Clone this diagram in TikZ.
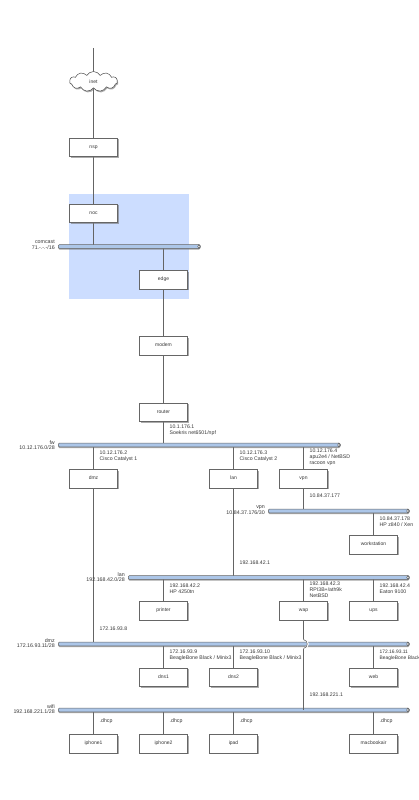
\documentclass[tikz,border=0pt]{standalone}
\usepackage{fontspec}
\setmainfont{Liberation Sans}
\usetikzlibrary{shapes.symbols,shadows,backgrounds}
\definecolor{busfill}{RGB}{172,198,232}
\definecolor{zone}{RGB}{204,221,255}
\definecolor{linecol}{RGB}{100,100,100}
\definecolor{txt}{RGB}{55,55,55}
\tikzset{
  x=1pt,y=-1pt,
  dev/.style={draw=black!60,fill=white,line width=.5pt,minimum width=48pt,minimum height=18.5pt,inner sep=0pt,text=txt,text height=3.6pt,text depth=.9pt,font=\fontsize{5}{6}\selectfont,drop shadow={shadow xshift=1.1pt,shadow yshift=-1.5pt,fill=black!55,opacity=.6}},
  cld/.style={cloud,cloud puffs=11,cloud puff arc=120,aspect=3,draw=black!70,fill=white,line width=.5pt,minimum width=48pt,minimum height=20pt,inner sep=0pt,text=txt,font=\fontsize{5}{6}\selectfont,drop shadow={shadow xshift=.9pt,shadow yshift=-1.3pt,fill=black!55,opacity=.6}},
  bus/.style={draw=black!60,fill=busfill,line width=.5pt,rounded corners=1.2pt,inner sep=0pt,minimum height=3.8pt,drop shadow={shadow xshift=0pt,shadow yshift=-1.1pt,fill=black!55,opacity=.65}},
  buscap/.style={draw=black!70,fill=white,line width=.45pt},
  conn/.style={draw=linecol,line width=.6pt},
  lab/.style={font=\fontsize{5.2}{6}\selectfont,text=txt,align=left,anchor=north west,inner sep=0pt},
  blab/.style={font=\fontsize{5.3}{5.6}\selectfont,text=txt,align=right,anchor=north east,inner sep=0pt}
}
\newcommand{\busnode}[4]{\node[bus,minimum width=#4pt,anchor=west] (#1) at (#2,#3) {};
  \path[buscap] ([xshift=-1.6pt]#1.east) ellipse[x radius=1.2pt,y radius=1.9pt];}
\begin{document}
\begin{tikzpicture}
\useasboundingbox (0,0) rectangle (419,800);
\coordinate (top) at (93.5,48);
% buses
\busnode{comcast}{58}{246.5}{142}
\busnode{fw}{58}{445}{282}
\busnode{vpnbus}{268}{511}{141}
\busnode{lanbus}{128}{577.5}{281}
\busnode{dmzbus}{58}{644}{351}
\busnode{wifi}{58}{710}{351}
% devices
\node[cld] (inet) at (93.5,81.5) {inet};
\node[dev] (nsp) at (93.5,147) {nsp};
\node[dev] (noc) at (93.5,213) {noc};
\node[dev] (edge) at (163.5,279.5) {edge};
\node[dev] (modem) at (163.5,345.5) {modem};
\node[dev] (router) at (163.5,412) {router};
\node[dev] (dmz) at (93.5,478.5) {dmz};
\node[dev] (lan) at (233.5,478.5) {lan};
\node[dev] (vpn) at (303.5,478.5) {vpn};
\node[dev] (workstation) at (373.5,544.5) {workstation};
\node[dev] (printer) at (163.5,610.5) {printer};
\node[dev] (wap) at (303.5,610.5) {wap};
\node[dev] (ups) at (373.5,610.5) {ups};
\node[dev] (dns1) at (163.5,677) {dns1};
\node[dev] (dns2) at (233.5,677) {dns2};
\node[dev] (web) at (373.5,677) {web};
\node[dev] (iphone1) at (93.5,743.5) {iphone1};
\node[dev] (iphone2) at (163.5,743.5) {iphone2};
\node[dev] (ipad) at (233.5,743.5) {ipad};
\node[dev] (macbookair) at (373.5,743.5) {macbookair};
% connectors and zone behind
\begin{scope}[on background layer]
\fill[zone] (68.5,194) rectangle (189,299);
\path[conn] (top) -- (inet);
\path[conn] (inet) -- (nsp);
\path[conn] (nsp) -- (noc);
\path[conn] (noc) -- (noc |- comcast);
\path[conn] (edge |- comcast) -- (edge);
\path[conn] (edge) -- (modem);
\path[conn] (modem) -- (router);
\path[conn] (router) -- (router |- fw);
\path[conn] (dmz |- fw) -- (dmz);
\path[conn] (lan |- fw) -- (lan);
\path[conn] (vpn |- fw) -- (vpn);
\path[conn] (dmz) -- (dmz |- dmzbus);
\path[conn] (lan) -- (lan |- lanbus);
\path[conn] (vpn) -- (vpn |- vpnbus);
\path[conn] (workstation |- vpnbus) -- (workstation);
\path[conn] (printer |- lanbus) -- (printer);
\path[conn] (wap |- lanbus) -- (wap);
\path[conn] (ups |- lanbus) -- (ups);
\path[conn] (dns1 |- dmzbus) -- (dns1);
\path[conn] (dns2 |- dmzbus) -- (dns2);
\path[conn] (web |- dmzbus) -- (web);
\path[conn] (iphone1 |- wifi) -- (iphone1);
\path[conn] (iphone2 |- wifi) -- (iphone2);
\path[conn] (ipad |- wifi) -- (ipad);
\path[conn] (macbookair |- wifi) -- (macbookair);
\end{scope}
% wap down to wifi, hopping over the dmz bus
\coordinate (hopa) at (303.5,639.5);
\coordinate (hopb) at (303.5,648.5);
\path[conn] (wap) -- (hopa);
\path[conn] (hopb) -- (hopb |- wifi);
\draw[white,line width=1.5pt] (hopa) .. controls (309.5,640.5) and (309.5,647.5) .. (hopb);
\path[conn] (hopa) .. controls (308.5,640.5) and (308.5,647.5) .. (hopb);
% bus labels
\node[blab] (lcomcast) at (55,240) {comcast\\71.-.-.-/16};
\node[blab] (lfw) at (55,440) {fw\\10.12.176.0/28};
\node[blab] (lvpn) at (265,505.5) {vpn\\10.84.37.176/30};
\node[blab] (llan) at (125,572) {lan\\192.168.42.0/28};
\node[blab] (ldmz) at (55,638) {dmz\\172.16.93.11/28};
\node[blab] (lwifi) at (55,704) {wifi\\192.168.221.1/28};
% interface labels
\node[lab] (a1) at (169.5,425) {10.1.176.1\\Soekris net6501/npf};
\node[lab] (a2) at (99.5,451) {10.12.176.2\\Cisco Catalyst 1};
\node[lab] (a3) at (239.5,451) {10.12.176.3\\Cisco Catalyst 2};
\node[lab] (a4) at (309.5,448.5) {10.12.176.4\\apu2e4 / NetBSD\\racoon vpn};
\node[lab] (a5) at (309.5,494) {10.84.37.177};
\node[lab] (a6) at (379.5,517) {10.84.37.178\\HP z840 / Xen};
\node[lab] (a7) at (239.5,561) {192.168.42.1};
\node[lab] (a8) at (169.5,584) {192.168.42.2\\HP 4250tn};
\node[lab] (a9) at (309.5,581.5) {192.168.42.3\\RPI3B+/ath9k\\NetBSD};
\node[lab] (a10) at (379.5,584) {192.168.42.4\\Eaton 9100};
\node[lab] (a11) at (99.5,627) {172.16.93.8};
\node[lab] (a12) at (169.5,650) {172.16.93.9\\BeagleBone Black / Minix3};
\node[lab] (a13) at (239.5,650) {172.16.93.10\\BeagleBone Black / Minix3};
\node[lab,font=\fontsize{4.9}{6}\selectfont] (a14) at (379.5,650) {172.16.93.11\\BeagleBone Black};
\node[lab] (a15) at (309.5,693) {192.168.221.1};
\node[lab] (a16) at (99.5,719) {.dhcp};
\node[lab] (a17) at (169.5,719) {.dhcp};
\node[lab] (a18) at (239.5,719) {.dhcp};
\node[lab] (a19) at (379.5,719) {.dhcp};
\end{tikzpicture}
\end{document}
